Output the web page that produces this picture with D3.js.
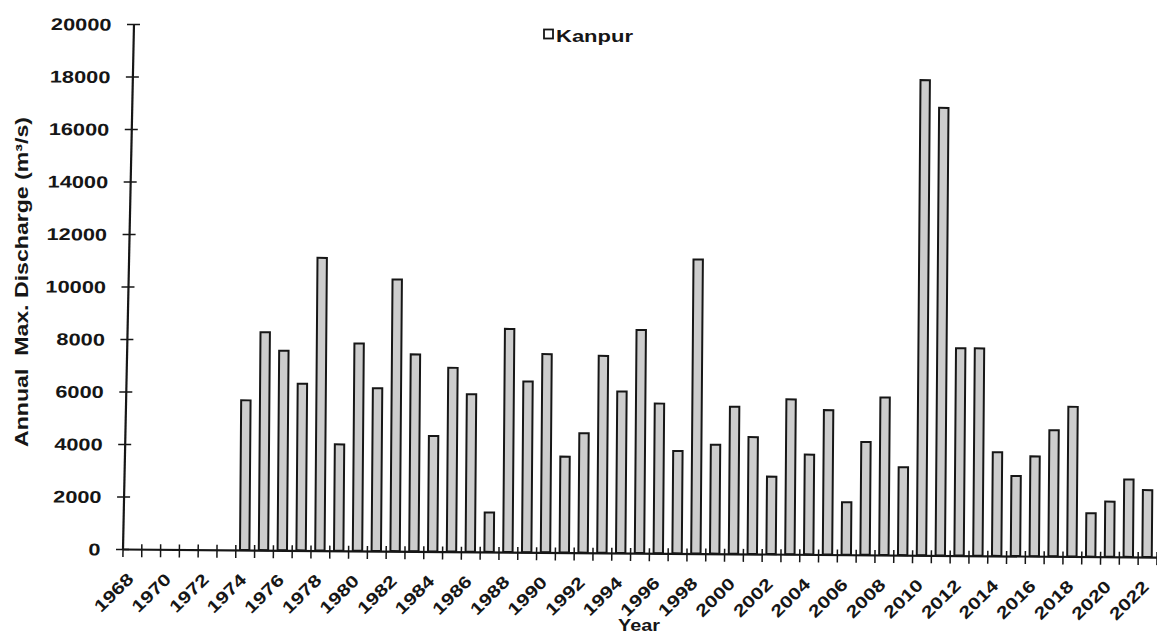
<!DOCTYPE html>
<html>
<head>
<meta charset="utf-8">
<script src="https://cdn.jsdelivr.net/npm/d3@7"></script>
<style>
  html, body { margin: 0; padding: 0; background: #ffffff; }
  svg { display: block; font-family: "Liberation Sans", Arial, Helvetica, sans-serif; }
</style>
</head>
<body>
<svg id="chart" width="1157" height="637"></svg>
<script>
// ---------------- data ----------------
const years = [1968,1969,1970,1971,1972,1973,1974,1975,1976,1977,1978,1979,1980,1981,1982,1983,
  1984,1985,1986,1987,1988,1989,1990,1991,1992,1993,1994,1995,1996,1997,1998,1999,2000,2001,
  2002,2003,2004,2005,2006,2007,2008,2009,2010,2011,2012,2013,2014,2015,2016,2017,2018,2019,
  2020,2021,2022];
const dataYears = [1974,1975,1976,1977,1978,1979,1980,1981,1982,1983,1984,1985,1986,1987,1988,
  1989,1990,1991,1992,1993,1994,1995,1996,1997,1998,1999,2000,2001,2002,2003,2004,2005,2006,
  2007,2008,2009,2010,2011,2012,2013,2014,2015,2016,2017,2018,2019,2020,2021,2022];
const discharge = [5700,8300,7600,6350,11150,4050,7900,6200,10350,7500,
  4400,7000,6000,1500,8500,6500,7550,3650,4550,7500,
  6150,8500,5700,3900,11200,4150,5600,4450,2950,5900,
  3800,5500,2000,4300,6000,3350,18100,17050,7900,7900,
  3950,3050,3800,4800,5700,1650,2100,2950,2550];
const yTicks = [0,2000,4000,6000,8000,10000,12000,14000,16000,18000,20000];
const xTickLabels = [1968,1970,1972,1974,1976,1978,1980,1982,1984,1986,1988,1990,1992,1994,
  1996,1998,2000,2002,2004,2006,2008,2010,2012,2014,2016,2018,2020,2022];
const seriesName = "Kanpur";
const yTitle = "Annual  Max. Discharge (m\u00B3/s)";
const xTitle = "Year";

// ---------------- layout ----------------
const ink = "#161616";
const ox = 122.5, oy = 549, plotW = 1034, plotTop = 24;
const svg = d3.select("#chart");

const x = d3.scaleBand().domain(years).range([0, plotW]).paddingInner(0.5).paddingOuter(0.25);
const xEdge = d3.scaleLinear().domain([0, years.length]).range([0, plotW]);
const y = d3.scaleLinear().domain([0, 20000]).range([0, -(oy - plotTop)]);

// whole plot slightly rotated like the scanned original
const g = svg.append("g").attr("transform", `translate(${ox},${oy}) rotate(0.45)`);

// bars
g.append("g").selectAll("rect")
  .data(dataYears.map((yr, i) => ({ yr, v: discharge[i] })))
  .join("rect")
  .attr("x", d => x(d.yr))
  .attr("y", d => y(d.v))
  .attr("width", x.bandwidth())
  .attr("height", d => -y(d.v))
  .attr("fill", "#cdcdcd")
  .attr("stroke", ink)
  .attr("stroke-width", 2);

// x axis: boundary ticks
const xAxisG = g.append("g")
  .call(d3.axisBottom(xEdge).tickValues(d3.range(years.length + 1)).tickSizeInner(8).tickSizeOuter(0).tickFormat(""));
xAxisG.select(".domain").attr("stroke", ink).attr("stroke-width", 2.2);
xAxisG.selectAll(".tick line").attr("y1", -5).attr("stroke", ink).attr("stroke-width", 1.5);

// x axis labels
const xLab = g.append("g")
  .call(d3.axisBottom(x).tickValues(xTickLabels).tickSize(0).tickFormat(d => String(d)));
xLab.select(".domain").remove();
xLab.selectAll(".tick text")
  .attr("x", 0).attr("y", 0).attr("dy", 0)
  .attr("text-anchor", "end")
  .attr("transform", "translate(3,31) rotate(-45) scale(1.25,1)")
  .attr("font-size", 17)
  .attr("font-weight", "bold")
  .attr("font-family", "Liberation Sans, Arial, sans-serif")
  .attr("fill", ink);

// y axis (leans slightly more, as in the scan)
const yAxisG = g.append("g").attr("transform", "skewX(-0.75)")
  .call(d3.axisLeft(y).tickValues(yTicks).tickSizeInner(6.5).tickSizeOuter(0).tickPadding(0).tickFormat(d => String(d)));
yAxisG.select(".domain").attr("stroke", ink).attr("stroke-width", 2.2);
yAxisG.selectAll(".tick line").attr("x1", 6.5).attr("stroke", ink).attr("stroke-width", 1.5);
yAxisG.selectAll(".tick text")
  .attr("x", 0).attr("dy", "0.36em")
  .attr("text-anchor", "end")
  .attr("transform", "translate(-22,0) scale(1.28,1)")
  .attr("font-size", 17)
  .attr("font-weight", "bold")
  .attr("font-family", "Liberation Sans, Arial, sans-serif")
  .attr("fill", ink);

// legend
svg.append("rect").attr("x", 544).attr("y", 29.5).attr("width", 9).attr("height", 9)
  .attr("fill", "#ffffff").attr("stroke", ink).attr("stroke-width", 1.8);
svg.append("text").attr("x", 556).attr("y", 41.5)
  .attr("font-size", 17).attr("font-weight", "bold").attr("fill", ink)
  .attr("textLength", 77).attr("lengthAdjust", "spacingAndGlyphs")
  .text(seriesName);

// axis titles
svg.append("text")
  .attr("transform", "translate(28,282) rotate(-90)")
  .attr("text-anchor", "middle")
  .attr("font-size", 18).attr("font-weight", "bold").attr("fill", ink)
  .style("white-space", "pre")
  .attr("textLength", 330).attr("lengthAdjust", "spacingAndGlyphs")
  .text(yTitle);

svg.append("text")
  .attr("x", 618).attr("y", 631)
  .attr("font-size", 17).attr("font-weight", "bold").attr("fill", ink)
  .attr("textLength", 42).attr("lengthAdjust", "spacingAndGlyphs")
  .text(xTitle);
</script>
</body>
</html>
